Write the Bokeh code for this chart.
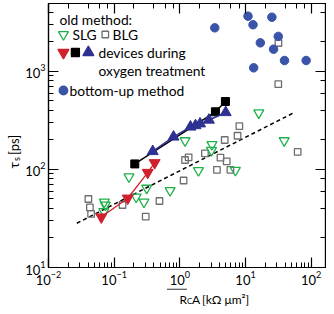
from math import pi
from bokeh.plotting import figure
from bokeh.layouts import row, column
from bokeh.models import LogAxis, LogTicker, Label, Range1d, LinearScale
from bokeh.embed import file_html
from bokeh.resources import INLINE

# ---------------- data ----------------
# old method, single-layer graphene (open green triangles)
slg_x = [0.0708, 0.0733, 0.0695, 0.168, 0.216, 0.284, 0.313, 0.710, 1.20, 1.92, 3.08, 3.03, 7.00, 15.9, 38.8]
slg_y = [46.6, 43.4, 37.3, 84.3, 52.4, 46.6, 64.5, 61.1, 197, 97.7, 180, 157, 98.2, 379, 197]
# old method, bilayer graphene (open grey squares)
blg_x = [0.0405, 0.0427, 0.0445, 0.134, 0.302, 0.489, 1.14, 1.20, 1.36, 2.41, 4.15, 5.17, 3.67, 5.88,
         4.82, 7.56, 8.05, 62.2, 31.7, 31.5]
blg_y = [50.0, 41.0, 35.2, 43.4, 33.0, 47.7, 77.2, 125, 133, 146, 132, 121, 99.3, 99.3,
         200, 221, 277, 151, 1954, 742]
# devices during oxygen treatment
ox_red_x = [0.0637, 0.161, 0.324, 0.413]
ox_red_y = [32.7, 50.9, 93.1, 117]
ox_black_x = [0.206, 3.48, 4.94]
ox_black_y = [114, 388, 494]
ox_blue_x = [0.386, 0.801, 1.45, 1.73, 2.03, 2.77, 4.99]
ox_blue_y = [153, 215, 272, 281, 293, 320, 382]
# bottom-up method
bu_x = [3.40, 10.9, 13.0, 25.2, 31.5, 16.8, 26.7, 39.2, 83.7, 13.3]
bu_y = [2790, 3670, 3000, 3580, 2280, 1960, 1690, 1295, 1295, 1090]
# dashed guide line
fit_x = [0.0270, 54.1]
fit_y = [28.3, 379]

x_label_overrides = {1: "1"}

# ---------------- styling ----------------
FONT = "Lato"
LEG_FS = "13.8px"
GREEN = "#1fb04a"
GRAY = "#6e6e6e"
RED = "#d0202e"
NAVY = "#2e3192"
BLUE = "#3954a8"

TOTAL_W, TOTAL_H = 326, 306
LW = 22                       # strip for the y-axis title
QH = 18                       # strip for the x-axis title
PW, PH = TOTAL_W - LW, TOTAL_H - QH
ML, MR, MT, MB = 47 - LW, 1, 3, 21
FW, FH = PW - ML - MR, PH - MT - MB
FRAME_L, FRAME_B = LW + ML, MT + FH   # frame position in the picture

p = figure(width=PW, height=PH, x_axis_type="log", y_axis_type="log",
           x_range=Range1d(0.01, 165), y_range=Range1d(10, 4940),
           output_backend="svg", toolbar_location=None,
           min_border_left=ML, min_border_right=MR, min_border_top=MT, min_border_bottom=MB)
p.grid.visible = False
p.outline_line_color = "black"
p.outline_line_width = 1.2
p.extra_x_ranges = {"px": Range1d(0, FW)}
p.extra_y_ranges = {"py": Range1d(0, FH)}
p.extra_x_scales = {"px": LinearScale()}
p.extra_y_scales = {"py": LinearScale()}

p.add_layout(LogAxis(ticker=LogTicker()), "above")
p.add_layout(LogAxis(ticker=LogTicker()), "right")

for ax in p.axis:
    ax.major_tick_in = 10
    ax.major_tick_out = 0
    ax.minor_tick_in = 5
    ax.minor_tick_out = 0
    ax.axis_line_width = 1.2
    ax.major_tick_line_width = 1.2
    ax.minor_tick_line_width = 1.0
    ax.major_label_text_font = FONT
    ax.major_label_text_font_size = "13px"
    ax.major_label_text_color = "black"
    ax.major_label_standoff = 3
p.xaxis[0].major_label_standoff = 1
for ax in p.above + p.right:
    ax.major_label_text_font_size = "1px"
    ax.major_label_text_alpha = 0
    ax.major_label_standoff = 0
p.xaxis[0].major_label_overrides = x_label_overrides

# ---------------- glyphs ----------------
p.line(fit_x, fit_y, line_color="black", line_width=1.5, line_dash="4 3")
p.scatter(blg_x, blg_y, marker="square", size=6.5, fill_color=None, line_color=GRAY, line_width=1.3)
p.scatter(slg_x, slg_y, marker="inverted_triangle", size=10, fill_color=None, line_color=GREEN, line_width=1.3)
p.line(ox_red_x, ox_red_y, line_color=RED, line_width=1.3)
p.scatter(ox_red_x, ox_red_y, marker="inverted_triangle", size=11, fill_color=RED, line_color=RED)
p.line(ox_black_x, ox_black_y, line_color="black", line_width=1.5)
p.scatter(ox_black_x, ox_black_y, marker="square", size=8, fill_color="black", line_color="black")
p.line(ox_blue_x, ox_blue_y, line_color=NAVY, line_width=1.5)
p.scatter(ox_blue_x, ox_blue_y, marker="triangle", size=11, fill_color=NAVY, line_color=NAVY)
p.scatter(bu_x, bu_y, marker="circle", size=8.5, fill_color=BLUE, line_color=BLUE)

# ---------------- legend (positions in picture pixels) ----------------
def key(marker, px, py, size, fill, line):
    p.scatter([px - FRAME_L], [FRAME_B - py], marker=marker, size=size, fill_color=fill,
              line_color=line, line_width=1.3, x_range_name="px", y_range_name="py")

def label(fig, text, x, y, size, baseline="middle", angle=0):
    fig.add_layout(Label(x=x, y=y, x_units="screen", y_units="screen", text=text,
                         text_font=FONT, text_font_size=size, text_baseline=baseline,
                         text_align="left", angle=angle, text_color="black"))

def ltxt(text, px, py):
    label(p, text, px - FRAME_L, FRAME_B - py, LEG_FS)

ltxt("old method:", 58, 19)
key("inverted_triangle", 62, 34, 10, None, GREEN)
ltxt("SLG", 71, 34)
key("square", 104, 34, 6.5, None, GRAY)
ltxt("BLG", 111, 34)
key("inverted_triangle", 62, 52, 11, RED, RED)
key("square", 74, 52, 8, "black", "black")
key("triangle", 87, 52, 11, NAVY, NAVY)
ltxt("devices during", 97, 52)
ltxt("oxygen treatment", 97, 70)
key("circle", 62, 90, 8.5, BLUE, BLUE)
ltxt("bottom-up method", 68, 90)

# ---------------- strips for the axis titles ----------------
def strip(w, h):
    f = figure(width=w, height=h, x_range=Range1d(0, w), y_range=Range1d(0, h),
               output_backend="svg", toolbar_location=None,
               x_axis_location=None, y_axis_location=None,
               min_border=0, min_border_left=0, min_border_right=0,
               min_border_top=0, min_border_bottom=0)
    f.grid.visible = False
    f.outline_line_color = None
    return f

# y title: tau_s [ps]   (strip covers x 0..LW, y 0..TOTAL_H)
r = strip(LW, TOTAL_H)
label(r, "τ", 13, TOTAL_H - 168, "14px", "alphabetic", pi / 2)
label(r, "s", 16, TOTAL_H - 160.5, "9px", "alphabetic", pi / 2)
label(r, "[ps]", 13, TOTAL_H - 154.5, "13px", "alphabetic", pi / 2)

# x title: overline(R_C A) [kΩ μm²]   (strip covers x LW..TOTAL_W, y PH..TOTAL_H)
q = strip(PW, QH)
label(q, "R", 153 - LW, TOTAL_H - 298.5, "12px", "alphabetic")
label(q, "C", 160.5 - LW, TOTAL_H - 300.5, "8px", "alphabetic")
label(q, "A", 165.5 - LW, TOTAL_H - 298.5, "12px", "alphabetic")
label(q, "[kΩ μm²]", 175.5 - LW, TOTAL_H - 298.5, "12px", "alphabetic")
q.segment(x0=[152 - LW], y0=[TOTAL_H - 288.6], x1=[174 - LW], y1=[TOTAL_H - 288.6],
          line_color="black", line_width=1)

layout = row(r, column(p, q))
open("out.html", "w").write(file_html(layout, INLINE))
